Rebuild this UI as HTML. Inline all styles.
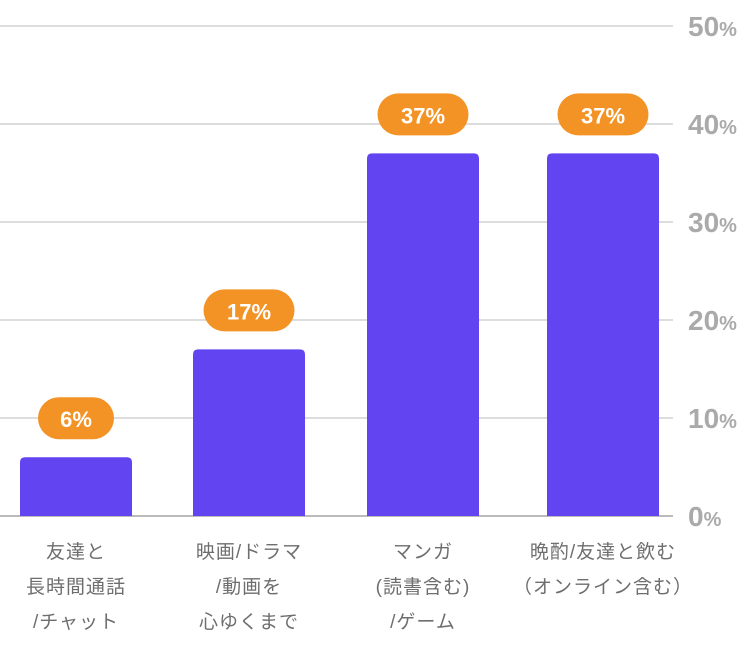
<!DOCTYPE html>
<html><head><meta charset="utf-8"><style>
body{margin:0;background:#fff;width:750px;height:653px;overflow:hidden}
svg{font-family:"Liberation Sans","Noto Sans CJK JP",sans-serif}
</style></head><body>
<svg width="750" height="653" id="c"></svg>
<script>
const categories=[["友達と","長時間通話","/チャット"],["映画/ドラマ","/動画を","心ゆくまで"],["マンガ","(読書含む)","/ゲーム"],["晩酌/友達と飲む","（オンライン含む）"]];
const values=[6,17,37,37];
const ticks=[0,10,20,30,40,50];
const centers=[76,249,423,603];
const NS="http://www.w3.org/2000/svg",svg=document.getElementById('c');
const y=v=>516-v*9.8;
function mk(t,a,p){const e=document.createElementNS(NS,t);for(const k in a)e.setAttribute(k,a[k]);(p||svg).appendChild(e);return e;}
ticks.forEach(t=>{
 const l=mk('line',{x1:0,x2:673,y1:y(t),y2:y(t),stroke:t===0?'#bbb':'#ddd','stroke-width':2});
 
 
 const tx=mk('text',{x:688,y:y(t)+10,fill:'#aaa','font-size':28,'font-weight':'bold'});
 
 
 tx.textContent=t;
 const s=mk('tspan',{'font-size':20},tx);s.textContent='%';
});
values.forEach((v,i)=>{
 const cx=centers[i],top=y(v);
 const b=mk('path',{d:`M${cx-56},516 V${top+5} Q${cx-56},${top} ${cx-51},${top} H${cx+51} Q${cx+56},${top} ${cx+56},${top+5} V516 Z`,fill:'#6244F0'});
 
 
 const w=String(v).length>1?91:76;
 const p=mk('rect',{x:cx-w/2,y:top-60,width:w,height:42,rx:21,fill:'#F39325'});
 
 
 const t=mk('text',{x:cx,y:top-30,'text-anchor':'middle',fill:'#fff','font-size':22,'font-weight':'bold'});
 
 
 t.textContent=v+'%';
 categories[i].forEach((ln,j)=>{
  const c=mk('text',{x:cx,y:558+j*35,'text-anchor':'middle',fill:'#6e6e6e','font-size':19,'letter-spacing':1});
  
  
  c.textContent=ln;
 });
});
</script>
</body></html>
